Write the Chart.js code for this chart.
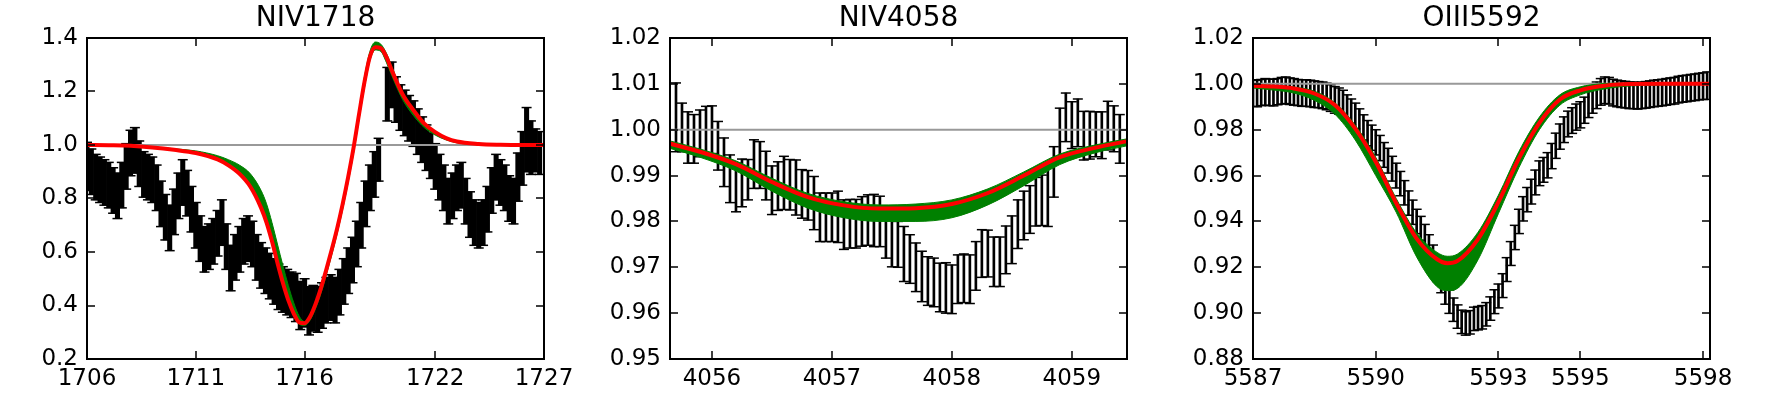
<!DOCTYPE html>
<html>
<head>
<meta charset="utf-8">
<script src="https://cdn.jsdelivr.net/npm/chart.js@4.4.1/dist/chart.umd.min.js"></script>
<style>
html, body { margin: 0; padding: 0; background: #fff; overflow: hidden; }
body { width: 1766px; height: 396px; position: relative; }
canvas { position: absolute; top: 0; }
</style>
</head>
<body>
<canvas id="c1" width="637" height="396" style="left:-3px"></canvas>
<canvas id="c2" width="637" height="396" style="left:580px"></canvas>
<canvas id="c3" width="637" height="396" style="left:1163px"></canvas>
<script>
// ---- NIV1718 ----
const x1 = [1706.0,1706.2,1706.4,1706.6,1706.8,1707.0,1707.2,1707.4,1707.6,1707.8,
  1708.0,1708.2,1708.4,1708.6,1708.8,1709.0,1709.2,1709.4,1709.6,1709.8,
  1710.0,1710.2,1710.4,1710.6,1710.8,1711.0,1711.2,1711.4,1711.6,1711.8,
  1712.0,1712.2,1712.4,1712.6,1712.8,1713.0,1713.2,1713.4,1713.6,1713.8,
  1714.0,1714.2,1714.4,1714.6,1714.8,1715.0,1715.2,1715.4,1715.6,1715.8,
  1716.0,1716.2,1716.4,1716.6,1716.8,1717.0,1717.2,1717.4,1717.6,1717.8,
  1718.0,1718.2,1718.4,1718.6,1718.8,1719.0,1719.2,1719.4,1719.8,
  1720.0,1720.2,1720.4,1720.6,1720.8,1721.0,1721.2,1721.4,1721.6,1721.8,
  1722.0,1722.2,1722.4,1722.6,1722.8,1723.0,1723.2,1723.4,1723.6,1723.8,
  1724.0,1724.2,1724.4,1724.6,1724.8,1725.0,1725.2,1725.4,1725.6,1725.8,
  1726.0,1726.2,1726.4,1726.6,1726.8];
const flux1 = [0.92,0.90,0.88,0.87,0.86,0.85,0.83,0.81,0.85,0.92,
  0.97,0.98,0.93,0.89,0.88,0.87,0.84,0.78,0.73,0.69,
  0.75,0.81,0.86,0.82,0.76,0.70,0.65,0.61,0.62,0.64,
  0.67,0.71,0.62,0.54,0.58,0.61,0.64,0.65,0.63,0.58,
  0.55,0.53,0.51,0.49,0.47,0.46,0.45,0.44,0.43,0.40,
  0.41,0.38,0.39,0.385,0.40,0.42,0.43,0.42,0.45,0.49,
  0.53,0.57,0.63,0.70,0.78,0.84,0.89,0.945,1.19,
  1.225,1.17,1.14,1.12,1.10,1.08,1.05,1.02,0.99,0.96,
  0.92,0.88,0.84,0.79,0.81,0.84,0.85,0.79,0.74,0.71,
  0.70,0.71,0.76,0.83,0.88,0.86,0.84,0.80,0.79,0.88,
  0.95,1.02,0.99,0.98,0.97];
const err1 = [0.09,0.085,0.085,0.085,0.085,0.085,0.085,0.085,0.085,0.085,
  0.085,0.085,0.085,0.085,0.085,0.085,0.085,0.085,0.085,0.085,
  0.085,0.085,0.085,0.085,0.085,0.085,0.085,0.085,0.085,0.085,
  0.085,0.085,0.085,0.085,0.085,0.085,0.085,0.085,0.085,0.085,
  0.085,0.085,0.085,0.085,0.085,0.085,0.085,0.085,0.09,0.09,
  0.09,0.09,0.085,0.085,0.085,0.085,0.085,0.085,0.085,0.085,
  0.085,0.085,0.085,0.085,0.085,0.085,0.085,0.08,0.10,
  0.085,0.085,0.085,0.085,0.085,0.085,0.085,0.085,0.085,0.085,
  0.085,0.085,0.085,0.085,0.085,0.085,0.085,0.085,0.085,0.085,
  0.085,0.085,0.085,0.085,0.085,0.085,0.085,0.085,0.085,0.09,
  0.10,0.12,0.10,0.08,0.08];
const mx1 = [1706,1707,1708,1709,1710,1711,1712,1712.5,1713,1713.5,1714,1714.25,1714.5,1714.75,
  1715,1715.25,1715.5,1715.75,1716,1716.25,1716.5,1716.75,1717,1717.25,1717.5,1717.75,1718,1718.25,
  1718.5,1718.75,1719,1719.25,1719.5,1719.75,1720,1720.5,1721,1721.5,1722,1722.5,1723,1724,1725,1726,1727];
const red1 = [1.0,0.999,0.997,0.991,0.982,0.97,0.946,0.924,0.893,0.845,0.765,0.71,0.64,0.56,
  0.485,0.42,0.37,0.337,0.334,0.358,0.405,0.465,0.535,0.61,0.69,0.78,0.88,0.99,
  1.115,1.235,1.33,1.365,1.362,1.33,1.28,1.19,1.13,1.08,1.048,1.026,1.013,1.004,1.001,1.0,1.0];
const hi1 = [1.0,1.0,0.998,0.993,0.986,0.978,0.96,0.945,0.925,0.893,0.83,0.78,0.71,0.63,
  0.55,0.475,0.41,0.36,0.34,0.36,0.407,0.467,0.537,0.612,0.692,0.783,0.885,1.0,
  1.13,1.255,1.35,1.385,1.377,1.345,1.295,1.195,1.132,1.082,1.05,1.027,1.014,1.005,1.001,1.0,1.0];
const lo1 = [0.998,0.997,0.995,0.989,0.98,0.968,0.944,0.922,0.891,0.843,0.762,0.706,0.636,0.555,
  0.48,0.415,0.365,0.33,0.325,0.345,0.388,0.445,0.515,0.59,0.67,0.76,0.86,0.97,
  1.095,1.215,1.315,1.355,1.35,1.31,1.26,1.17,1.11,1.065,1.037,1.019,1.008,1.001,0.999,0.998,0.998];
const xTicks1 = [1706, 1711, 1716, 1722, 1727];
const yTicks1 = [0.2, 0.4, 0.6, 0.8, 1.0, 1.2, 1.4];

// ---- NIV4058 ----
const x2 = [4055.70,4055.75,4055.80,4055.85,4055.90,4055.95,4056.00,4056.05,4056.10,4056.15,
  4056.20,4056.25,4056.30,4056.35,4056.40,4056.45,4056.50,4056.55,4056.60,4056.65,
  4056.70,4056.75,4056.80,4056.85,4056.90,4056.95,4057.00,4057.05,4057.10,4057.15,
  4057.20,4057.25,4057.30,4057.35,4057.40,4057.45,4057.50,4057.55,4057.60,4057.65,
  4057.70,4057.75,4057.80,4057.85,4057.90,4057.95,4058.00,4058.05,4058.10,4058.15,
  4058.20,4058.25,4058.30,4058.35,4058.40,4058.45,4058.50,4058.55,4058.60,4058.65,
  4058.70,4058.75,4058.80,4058.85,4058.90,4058.95,4059.00,4059.05,4059.10,4059.15,
  4059.20,4059.25,4059.30,4059.35,4059.40];
const flux2 = [1.0027,1.0005,0.9983,0.9980,0.9992,0.9998,1.0000,0.9965,0.9929,0.9893,
  0.9874,0.9884,0.9891,0.9925,0.9923,0.9900,0.9868,0.9877,0.9884,0.9880,
  0.9874,0.9860,0.9857,0.9840,0.9809,0.9809,0.9809,0.9810,0.9793,0.9795,
  0.9795,0.9800,0.9803,0.9802,0.9800,0.9776,0.9754,0.9750,0.9729,0.9718,
  0.9700,0.9680,0.9670,0.9667,0.9656,0.9655,0.9652,0.9674,0.9676,0.9674,
  0.9703,0.9730,0.9730,0.9712,0.9712,0.9738,0.9760,0.9794,0.9813,0.9826,
  0.9843,0.9846,0.9854,0.9908,0.9994,1.0027,1.0010,1.0015,0.9987,0.9988,
  0.9990,0.9988,1.0009,1.0002,0.9980];
const err2 = [0.0075,0.0053,0.0056,0.0053,0.0051,0.0053,0.0052,0.0053,0.0053,0.0052,
  0.0053,0.0052,0.0044,0.0053,0.0051,0.0053,0.0053,0.0053,0.0058,0.0055,
  0.0060,0.0053,0.0054,0.0058,0.0053,0.0053,0.0053,0.0056,0.0054,0.0053,
  0.0053,0.0054,0.0055,0.0057,0.0055,0.0056,0.0053,0.0050,0.0060,0.0053,
  0.0053,0.0055,0.0053,0.0053,0.0053,0.0055,0.0053,0.0053,0.0053,0.0053,
  0.0053,0.0052,0.0051,0.0054,0.0054,0.0052,0.0052,0.0053,0.0053,0.0052,
  0.0053,0.0055,0.0065,0.0055,0.0053,0.0053,0.0051,0.0052,0.0053,0.0052,
  0.0049,0.0051,0.0053,0.0050,0.0053];
const mx2 = [4055.6,4055.9,4056.2,4056.5,4056.8,4057.1,4057.4,4057.7,4058.0,4058.3,4058.6,4058.9,4059.2,4059.5];
const red2 = [0.9973,0.9952,0.9925,0.9886,0.9853,0.9835,0.9828,0.9829,0.9838,0.9862,0.9900,0.9940,0.9961,0.9977];
const hi2 = [0.9979,0.9958,0.9932,0.9894,0.9861,0.9843,0.9836,0.9838,0.9847,0.9871,0.9908,0.9947,0.9967,0.9982];
const lo2 = [0.9963,0.9940,0.9910,0.9866,0.9829,0.9808,0.9800,0.9800,0.9808,0.9836,0.9878,0.9924,0.9950,0.9967];
const xTicks2 = [4056, 4057, 4058, 4059];
const yTicks2 = [0.95, 0.96, 0.97, 0.98, 0.99, 1.00, 1.01, 1.02];

// ---- OIII5592 ----
const x3 = [5587.0,5587.1,5587.2,5587.3,5587.4,5587.5,5587.6,5587.7,5587.8,5587.9,
  5588.0,5588.1,5588.2,5588.3,5588.4,5588.5,5588.6,5588.7,5588.8,5588.9,
  5589.0,5589.1,5589.2,5589.3,5589.4,5589.5,5589.6,5589.7,5589.8,5589.9,
  5590.0,5590.1,5590.2,5590.3,5590.4,5590.5,5590.6,5590.7,5590.8,5590.9,
  5591.0,5591.1,5591.2,5591.3,5591.4,5591.5,5591.6,5591.7,5591.8,5591.9,
  5592.0,5592.1,5592.2,5592.3,5592.4,5592.5,5592.6,5592.7,5592.8,5592.9,
  5593.0,5593.1,5593.2,5593.3,5593.4,5593.5,5593.6,5593.7,5593.8,5593.9,
  5594.0,5594.1,5594.2,5594.3,5594.4,5594.5,5594.6,5594.7,5594.8,5594.9,
  5595.0,5595.1,5595.2,5595.3,5595.4,5595.5,5595.6,5595.7,5595.8,5595.9,
  5596.0,5596.1,5596.2,5596.3,5596.4,5596.5,5596.6,5596.7,5596.8,5596.9,
  5597.0,5597.1,5597.2,5597.3,5597.4,5597.5,5597.6,5597.7,5597.8,5597.9,
  5598.0,5598.1];
const flux3 = [0.9960,0.9958,0.9962,0.9965,0.9963,0.9962,0.9966,0.9970,0.9972,0.9968,
  0.9965,0.9962,0.9960,0.9960,0.9958,0.9955,0.9953,0.9950,0.9945,0.9938,
  0.9930,0.9925,0.9915,0.9895,0.9878,0.9860,0.9835,0.9810,0.9785,0.9765,
  0.9745,0.9720,0.9690,0.9665,0.9630,0.9600,0.9565,0.9525,0.9480,0.9440,
  0.9400,0.9370,0.9335,0.9290,0.9245,0.9190,0.9140,0.9090,0.9050,0.9015,
  0.8985,0.8962,0.8955,0.8960,0.8975,0.8978,0.8982,0.8995,0.9020,0.9050,
  0.9075,0.9120,0.9190,0.9260,0.9330,0.9400,0.9455,0.9495,0.9530,0.9570,
  0.9610,0.9625,0.9645,0.9685,0.9730,0.9770,0.9800,0.9825,0.9840,0.9855,
  0.9865,0.9885,0.9910,0.9930,0.9950,0.9965,0.9972,0.9970,0.9962,0.9958,
  0.9955,0.9953,0.9950,0.9950,0.9948,0.9950,0.9952,0.9955,0.9958,0.9960,
  0.9962,0.9965,0.9968,0.9970,0.9975,0.9978,0.9980,0.9983,0.9985,0.9988,
  0.9990,0.9992];
const err3 = [0.0058,0.0058,0.0057,0.0058,0.0058,0.0058,0.0057,0.0058,0.0058,0.0058,
  0.0058,0.0057,0.0058,0.0058,0.0058,0.0058,0.0057,0.0058,0.0058,0.0058,
  0.0058,0.0057,0.0057,0.0057,0.0056,0.0056,0.0056,0.0055,0.0055,0.0055,
  0.0055,0.0055,0.0054,0.0054,0.0054,0.0054,0.0053,0.0053,0.0053,0.0053,
  0.0053,0.0052,0.0052,0.0052,0.0052,0.0052,0.0051,0.0051,0.0051,0.0051,
  0.0051,0.0051,0.0051,0.0051,0.0051,0.0051,0.0051,0.0051,0.0051,0.0052,
  0.0052,0.0052,0.0052,0.0052,0.0053,0.0053,0.0053,0.0053,0.0054,0.0054,
  0.0054,0.0054,0.0055,0.0055,0.0055,0.0055,0.0056,0.0056,0.0056,0.0057,
  0.0057,0.0057,0.0057,0.0058,0.0058,0.0058,0.0058,0.0058,0.0058,0.0058,
  0.0058,0.0058,0.0058,0.0058,0.0058,0.0058,0.0058,0.0058,0.0058,0.0058,
  0.0058,0.0058,0.0058,0.0058,0.0058,0.0058,0.0058,0.0058,0.0058,0.0058,
  0.0058,0.0060];
const mx3 = [5587,5587.5,5588,5588.5,5589,5589.5,5590,5590.5,5591,5591.5,5591.75,5592,5592.5,5593,
  5593.5,5594,5594.5,5595,5595.5,5596,5597,5598.2];
const red3 = [0.9992,0.9988,0.998,0.9958,0.9908,0.9805,0.966,0.948,0.9325,0.9235,0.9218,0.9228,0.9323,0.9485,
  0.9675,0.983,0.9932,0.9972,0.999,0.9998,1.0,1.0];
const hi3 = [0.9997,0.9993,0.9986,0.9968,0.9918,0.982,0.968,0.950,0.935,0.9265,0.9248,0.9258,0.9353,0.9515,
  0.9705,0.9855,0.9952,0.9987,1.0,1.0003,1.0003,1.0003];
const lo3 = [0.9982,0.9973,0.996,0.9928,0.9868,0.9755,0.960,0.944,0.9245,0.9115,0.9098,0.9108,0.9233,0.9435,
  0.9635,0.980,0.9907,0.9952,0.9975,0.9988,0.9995,0.9997];
const xTicks3 = [5587, 5590, 5593, 5595, 5598];
const yTicks3 = [0.88, 0.90, 0.92, 0.94, 0.96, 0.98, 1.00, 1.02];

const continuum = 1.0;
const M = 90;

const frameTicks = {
  id: 'frameTicks',
  afterDatasetsDraw(chart) {
    const ctx = chart.ctx, a = chart.chartArea, sx = chart.scales.x, sy = chart.scales.y;
    ctx.save();
    ctx.strokeStyle = '#000';
    ctx.lineWidth = 1.5;
    ctx.beginPath();
    sx.ticks.forEach(t => {
      const p = Math.round(sx.getPixelForValue(t.value));
      ctx.moveTo(p, a.bottom); ctx.lineTo(p, a.bottom - 8);
      ctx.moveTo(p, a.top); ctx.lineTo(p, a.top + 8);
    });
    sy.ticks.forEach(t => {
      const p = Math.round(sy.getPixelForValue(t.value));
      ctx.moveTo(a.left, p); ctx.lineTo(a.left + 8, p);
      ctx.moveTo(a.right, p); ctx.lineTo(a.right - 8, p);
    });
    ctx.stroke();
    ctx.lineWidth = 2;
    ctx.strokeRect(a.left, a.top, a.right - a.left, a.bottom - a.top);
    ctx.restore();
  }
};

function pts(xs, ys) { return xs.map((x, i) => ({x: x, y: ys[i]})); }

function makePanel(id, p) {
  const bars = p.x.map((x, i) => ({x: x, y: [p.y[i] - p.e[i], p.y[i] + p.e[i]]}));
  const caps = [];
  p.x.forEach((x, i) => {
    caps.push({x: x, y: p.y[i] - p.e[i]});
    caps.push({x: x, y: p.y[i] + p.e[i]});
  });
  const font = {family: 'DejaVu Sans', size: 23};
  new Chart(document.getElementById(id), {
    type: 'scatter',
    data: {
      datasets: [
        {type: 'line', data: pts(p.mx, p.red), borderColor: '#ff0000', borderWidth: 4,
          pointRadius: 0, cubicInterpolationMode: 'monotone', fill: false, order: 1},
        {type: 'line', data: pts(p.mx, p.hi), borderColor: '#008000', backgroundColor: '#008000',
          borderWidth: 1, pointRadius: 0, cubicInterpolationMode: 'monotone', fill: '+1', order: 2},
        {type: 'line', data: pts(p.mx, p.lo), borderColor: '#008000', borderWidth: 1,
          pointRadius: 0, cubicInterpolationMode: 'monotone', fill: false, order: 2},
        {type: 'line', data: [{x: p.xmin, y: continuum}, {x: p.xmax, y: continuum}],
          borderColor: '#999999', borderWidth: 2, pointRadius: 0, fill: false, order: 3},
        {type: 'scatter', data: caps, pointStyle: 'line', pointRadius: p.cap,
          borderColor: '#000', borderWidth: 1.5, order: 4},
        {type: 'bar', data: bars, backgroundColor: '#000', borderWidth: 0,
          barThickness: p.bw, order: 5}
      ]
    },
    options: {
      responsive: false,
      animation: false,
      events: [],
      layout: {padding: 0},
      plugins: {
        legend: {display: false},
        tooltip: {enabled: false},
        title: {display: true, text: p.title, color: '#000',
          font: {family: 'DejaVu Sans', size: 28, weight: 'normal'},
          padding: {top: 2, bottom: 2.4}}
      },
      scales: {
        x: {type: 'linear', min: p.xmin, max: p.xmax, offset: false,
          grid: {display: false, drawTicks: false}, border: {display: false},
          afterBuildTicks: s => { s.ticks = p.xt.map(v => ({value: v})); },
          afterFit: s => { s.height = 37; },
          ticks: {font: font, color: '#000', padding: 6, maxRotation: 0, autoSkip: false,
            callback: v => String(v)}},
        y: {type: 'linear', position: 'left', min: p.ymin, max: p.ymax,
          grid: {display: false, drawTicks: false}, border: {display: false},
          afterBuildTicks: s => { s.ticks = p.yt.map(v => ({value: v})); },
          afterFit: s => { s.width = M; },
          ticks: {font: font, color: '#000', padding: 9, autoSkip: false,
            callback: v => v.toFixed(p.dec)}},
        yr: {type: 'linear', position: 'right', min: p.ymin, max: p.ymax,
          grid: {display: false, drawTicks: false}, border: {display: false},
          ticks: {display: false},
          afterFit: s => { s.width = M; }}
      }
    },
    plugins: [frameTicks]
  });
}

makePanel('c1', {title: 'NIV1718', x: x1, y: flux1, e: err1, mx: mx1, red: red1, hi: hi1, lo: lo1,
  xmin: 1706, xmax: 1727, ymin: 0.2, ymax: 1.4, xt: xTicks1, yt: yTicks1, dec: 1, bw: 4.4, cap: 5});
makePanel('c2', {title: 'NIV4058', x: x2, y: flux2, e: err2, mx: mx2, red: red2, hi: hi2, lo: lo2,
  xmin: 4055.65, xmax: 4059.46, ymin: 0.95, ymax: 1.02, xt: xTicks2, yt: yTicks2, dec: 2, bw: 2, cap: 5});
makePanel('c3', {title: 'OIII5592', x: x3, y: flux3, e: err3, mx: mx3, red: red3, hi: hi3, lo: lo3,
  xmin: 5587, xmax: 5598.17, ymin: 0.88, ymax: 1.02, xt: xTicks3, yt: yTicks3, dec: 2, bw: 2, cap: 5});
</script>
</body>
</html>
